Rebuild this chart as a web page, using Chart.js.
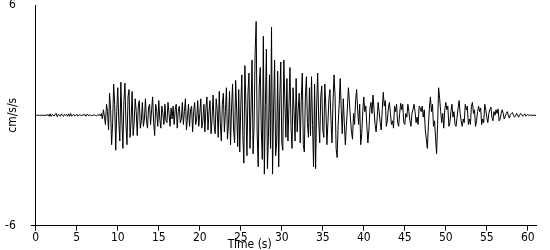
<!DOCTYPE html>
<html>
<head>
<meta charset="utf-8">
<script src="https://cdn.jsdelivr.net/npm/chart.js@4/dist/chart.umd.min.js"></script>
<style>
body { margin: 0; background: #fff; }
</style>
</head>
<body>
<canvas id="myChart" width="550" height="250"></canvas>
<script>
// ground acceleration record, one sample every 0.125 s starting at 0 s
var sampleStep = 0.125;
var accel = [
    0,0,0,0,0,0,0,0,
    0,0,0,0,0.05,-0.05,0.08,-0.06,
    0.05,0,-0.04,0.06,0.1,-0.08,0.05,0,
    -0.05,0.08,0,-0.06,0.05,0,0.04,-0.05,
    0.08,-0.06,0.1,-0.05,0,0.05,-0.04,0,
    0.06,-0.05,0,0.04,0,-0.03,0.05,0,
    0.04,-0.05,0.06,0,0,0.03,-0.03,0,
    0,0.03,0,-0.03,0.02,0,0.05,-0.04,
    0.1,-0.2,0.3,-0.1,-0.5,0.6,0.2,-0.8,
    1.2,0.3,-1.6,-0.4,1.7,0.6,-1.9,0.2,
    1.5,-0.3,-1.4,1.8,-0.2,-1.8,0.8,1.75,
    -0.5,-1.6,1.0,1.4,-1.2,-0.3,1.3,-1.1,
    -0.4,0.9,0.2,-1.1,0.5,0.8,-0.7,-0.3,
    0.7,-0.6,-0.2,0.9,-0.3,-0.7,0.4,0.6,
    -0.5,0.3,1.0,-0.4,-1.1,0.6,0.2,-0.6,
    0.8,-0.2,-0.7,0.5,0.1,-0.5,0.6,-0.3,
    -0.4,0.7,0.1,-0.6,0.4,-0.2,0.5,-0.5,
    0.3,0.6,-0.7,0.2,0.5,-0.4,-0.2,0.7,
    -0.5,0.2,0.9,-0.8,-0.1,0.6,-0.6,0.3,
    0.5,-0.9,0.2,0.7,-0.5,-0.2,0.8,-0.6,
    0.1,0.9,-0.7,-0.3,0.6,-0.9,0.4,1.0,
    -0.8,0.2,0.8,-1.0,-0.2,1.1,-0.5,-1.0,
    0.9,0.3,-1.2,1.3,-0.4,-1.4,0.6,1.2,
    -0.9,0.2,1.5,-1.3,-0.5,1.3,-1.6,0.4,
    1.7,-0.8,-1.5,1.9,0.3,-1.7,1.4,-2.0,
    0.5,2.2,-1.1,-2.6,2.7,0.6,-2.2,1.2,
    2.3,-1.8,0.4,3.0,-2.1,-0.5,3.4,5.1,
    -1.0,-2.8,1.6,2.6,-0.8,-2.4,4.3,-3.2,
    0.6,3.6,-2.9,-1.2,2.2,-1.8,4.8,-3.2,
    0.4,3.0,-2.2,-1.5,2.4,-2.8,0.8,2.9,
    -1.5,-1.9,3.0,0.8,-1.2,2.0,-1.4,0.5,
    2.6,-0.6,-1.8,1.5,0.2,-1.4,2.0,-0.9,
    0.3,1.2,-1.5,0.8,2.3,-1.6,-2.0,1.0,
    2.1,-0.4,-1.2,1.5,-1.1,2.1,-0.5,-2.8,
    1.7,-2.9,0.5,2.3,-0.2,-1.5,1.0,1.6,
    -0.8,-1.2,1.7,0.4,-1.6,-0.4,0.9,1.4,
    -0.3,-1.5,0.8,2.2,1.0,-1.8,-2.3,-0.5,
    0.6,2.0,0.3,-1.0,0.9,-0.4,-1.6,-0.6,
    0.4,1.5,0.7,-0.2,-0.9,-1.3,0.1,-0.5,
    0.8,1.4,0.3,-0.5,0.6,-1.6,-1.0,0.2,
    1.0,0.2,0.5,-0.6,-1.5,-0.8,0.4,0.7,
    0.1,1.1,0.3,-0.5,-0.9,-0.2,0.7,0.2,
    -0.4,-0.8,0.3,1.25,0.5,0.8,-0.6,-0.3,
    0.4,0.7,0.1,-0.5,-0.3,-0.7,0.5,0.2,
    0.6,-0.4,-0.6,0.1,0.65,0.3,0.6,-0.4,
    -0.5,0.1,-0.1,0.6,0.2,-0.3,-0.6,0.1,
    0.3,0.6,0.2,-0.4,-0.1,-0.5,0.5,0.4,
    0.2,0.5,-0.1,0.3,-0.8,-1.3,-1.8,-0.6,
    0.4,1.0,0.2,0.6,-0.6,-0.3,-1.2,-2.1,
    -0.5,1.5,0.9,0.2,-0.4,0.1,-0.7,0.3,
    0.7,0.3,0.5,-0.6,-0.4,0.2,0.6,-0.1,
    0.2,-0.5,-0.6,-0.1,0.4,0.8,0.1,-0.3,
    -0.6,-0.2,-0.4,0.6,0.3,0.5,-0.5,-0.2,
    -0.5,0.5,0.7,0.1,0.3,-0.6,-0.3,0.2,
    0.5,0.2,0.4,-0.5,-0.2,-0.4,0.6,0.3,
    -0.1,-0.4,0.1,0.3,0.45,-0.1,-0.3,0.2,
    0.0,0.3,0.1,0.35,-0.3,-0.2,0.1,0.3,
    0.1,-0.2,-0.05,0.1,0.2,0.0,-0.15,0.05,
    0.1,0.15,0,-0.1,-0.05,0.1,0.05,-0.1,
    0.0,0.1,0.05,-0.05,0.0,0.08,-0.05,0,
    0.05,0,-0.03,0.04,0,0,0,0,
    0
];

var xMin = 0, xMax = 61, xStep = 5;
var yMin = -6, yMax = 6;
var xTitle = 'Time (s)';
var yTitle = 'cm/s/s';
var fontFamily = '"Liberation Sans Narrow", "DejaVu Sans Condensed", "Liberation Sans", sans-serif';

var points = [];
for (var i = 0; i < accel.length; i++) {
    points.push({ x: i * sampleStep, y: accel[i] });
}

// axis titles sit off-centre in the original, so they are drawn here
var axisTitles = {
    id: 'axisTitles',
    afterDraw: function(chart) {
        var ctx = chart.ctx;
        var area = chart.chartArea;
        ctx.save();
        ctx.fillStyle = '#000';
        ctx.font = '12px ' + fontFamily;
        ctx.textAlign = 'center';
        ctx.textBaseline = 'alphabetic';
        ctx.fillText(xTitle, area.left + 214, 248);
        ctx.translate(16, (area.top + area.bottom) / 2);
        ctx.rotate(-Math.PI / 2);
        ctx.fillText(yTitle, 0, 0);
        ctx.restore();
    }
};

var myChart = new Chart(document.getElementById('myChart'), {
    type: 'line',
    data: {
        datasets: [{
            data: points,
            borderColor: '#000',
            borderWidth: 1,
            pointRadius: 0,
            tension: 0,
            fill: false
        }]
    },
    options: {
        responsive: false,
        animation: false,
        events: [],
        layout: { padding: { left: -10, right: 14, top: 5, bottom: 5 } },
        plugins: { legend: { display: false }, tooltip: { enabled: false } },
        scales: {
            x: {
                type: 'linear',
                min: xMin,
                max: xMax,
                border: { display: true, color: '#000', width: 1 },
                grid: { drawOnChartArea: false, drawTicks: true, tickLength: 5, color: '#000' },
                ticks: {
                    stepSize: xStep,
                    includeBounds: false,
                    maxRotation: 0,
                    autoSkip: false,
                    padding: 0,
                    color: '#000',
                    font: { family: fontFamily, size: 12 }
                }
            },
            y: {
                min: yMin,
                max: yMax,
                border: { display: true, color: '#000', width: 1 },
                grid: {
                    drawOnChartArea: false,
                    drawTicks: true,
                    tickLength: 5,
                    color: function(c) { return c.tick && c.tick.value === yMin ? '#000' : 'rgba(0,0,0,0)'; }
                },
                afterBuildTicks: function(axis) {
                    axis.ticks = [{ value: yMin }, { value: yMax }];
                },
                afterFit: function(axis) {
                    axis.paddingTop = 0;
                    axis.paddingBottom = 0;
                },
                ticks: {
                    padding: 15,
                    color: '#000',
                    font: { family: fontFamily, size: 12 }
                }
            }
        }
    },
    plugins: [axisTitles]
});
</script>
</body>
</html>
